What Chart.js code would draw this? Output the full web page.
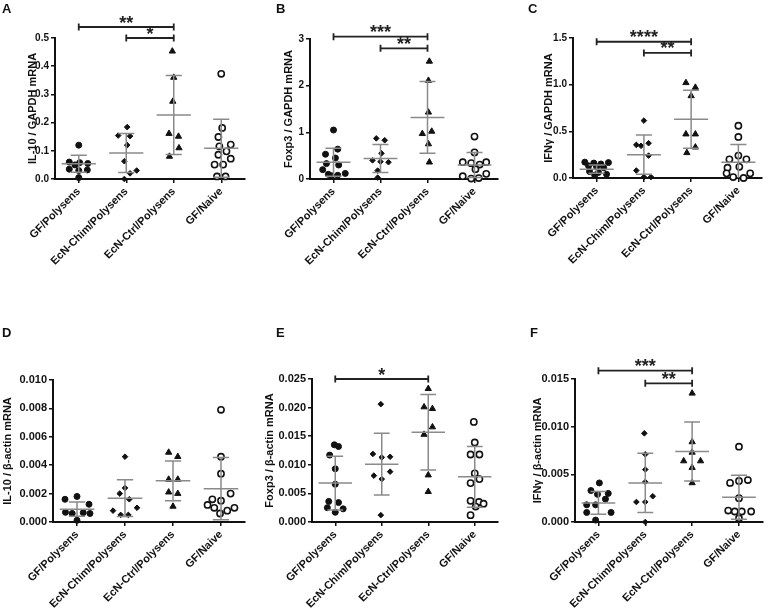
<!DOCTYPE html>
<html>
<head>
<meta charset="utf-8">
<script src="https://cdn.jsdelivr.net/npm/chart.js@4.4.1/dist/chart.umd.min.js"></script>
<style>
  html, body { margin: 0; padding: 0; background: #fff; }
  #fig { position: relative; width: 768px; height: 608px; overflow: hidden; }
  #fig canvas { position: absolute; }
  .tag { position: absolute; font: bold 13px "Liberation Sans", Arial, sans-serif; line-height: 13px; color: #111; }
</style>
</head>
<body>
<div id="fig">
  <canvas id="pA"></canvas><canvas id="pB"></canvas><canvas id="pC"></canvas>
  <canvas id="pD"></canvas><canvas id="pE"></canvas><canvas id="pF"></canvas>
  <div class="tag" style="left:2px;top:2px">A</div>
  <div class="tag" style="left:276px;top:2px">B</div>
  <div class="tag" style="left:528px;top:2px">C</div>
  <div class="tag" style="left:2px;top:326px">D</div>
  <div class="tag" style="left:276px;top:326px">E</div>
  <div class="tag" style="left:530px;top:326px">F</div>
</div>
<script>
const groups = ["GF/Polysens", "EcN-Chim/Polysens", "EcN-Ctrl/Polysens", "GF/Naive"];

// A: IL-10 / GAPDH
const aTicks = [0, 0.1, 0.2, 0.3, 0.4, 0.5];
const aGF = [0.12, 0.06, 0.058, 0.055, 0.05, 0.035, 0.032, 0.03, 0.005];
const aGFdx = [0, -0.2, 0.02, 0.19, -0.08, -0.2, 0.18, 0.0, 0];
const aChim = [0.184, 0.154, 0.152, 0.12, 0.063, 0.03, 0.02, 0.0];
const aChimDx = [0.02, -0.17, 0.08, 0.02, -0.04, 0.22, 0.08, -0.04];
const aCtrl = [0.453, 0.36, 0.275, 0.161, 0.151, 0.11, 0.08];
const aCtrlDx = [-0.03, 0, -0.02, -0.1, 0.1, 0.11, -0.09];
const aNaive = [0.373, 0.181, 0.149, 0.122, 0.116, 0.098, 0.086, 0.072, 0.051, 0.051, 0.009, 0.009];
const aNaiveDx = [0, 0.02, -0.06, 0.2, -0.04, 0.11, -0.06, 0.2, -0.14, 0.04, -0.09, 0.09];
const aMean = [0.054, 0.092, 0.227, 0.109];
const aSD = [0.03, 0.069, 0.14, 0.103];
const aSig = [[0, 2, 0.539, "**"], [1, 2, 0.5, "*"]];

// B: Foxp3 / GAPDH
const bTicks = [0, 1, 2, 3];
const bGF = [1.05, 0.64, 0.53, 0.45, 0.33, 0.3, 0.2, 0.12, 0.1, 0.08, 0.07];
const bGFdx = [0, 0.09, -0.17, 0.04, -0.15, 0.11, -0.23, 0.25, -0.11, 0.09, -0.04];
const bChim = [0.87, 0.83, 0.55, 0.4, 0.37, 0.36, 0.18, 0.03];
const bChimDx = [-0.09, 0.09, 0.02, -0.17, 0, 0.17, -0.06, -0.06];
const bCtrl = [2.52, 2.11, 1.43, 1.02, 0.97, 0.75, 0.36];
const bCtrlDx = [0.04, 0.02, 0.02, 0.09, -0.11, 0.02, 0.04];
const bNaive = [0.91, 0.57, 0.36, 0.36, 0.34, 0.31, 0.21, 0.11, 0.06, 0.02, 0.01];
const bNaiveDx = [0, 0, -0.25, 0.25, -0.07, 0.11, 0.02, 0.25, -0.25, 0.09, -0.07];
const bMean = [0.36, 0.44, 1.32, 0.3];
const bSD = [0.3, 0.3, 0.77, 0.27];
const bSig = [[0, 2, 3.05, "***"], [1, 2, 2.8, "**"]];

// C: IFNγ / GAPDH
const cTicks = [0, 0.5, 1.0, 1.5];
const cGF = [0.17, 0.165, 0.16, 0.15, 0.13, 0.12, 0.11, 0.07, 0.06, 0.04, 0.03];
const cGFdx = [-0.25, 0.25, -0.06, 0.09, -0.17, 0, 0.15, -0.15, 0.04, 0.21, -0.04];
const cChim = [0.615, 0.373, 0.355, 0.345, 0.24, 0.08, 0.01, 0.01];
const cChimDx = [0, 0.1, -0.16, -0.06, 0.1, -0.16, 0, 0.15];
const cCtrl = [1.02, 0.97, 0.88, 0.47, 0.47, 0.33, 0.27];
const cCtrlDx = [-0.11, 0.09, 0, -0.11, 0.09, 0.09, -0.09];
const cNaive = [0.56, 0.44, 0.24, 0.2, 0.2, 0.12, 0.11, 0.05, 0.05, 0.01, 0.0];
const cNaiveDx = [0, 0, 0, 0.17, -0.19, 0.02, -0.23, 0.25, -0.25, -0.11, 0.11];
const cMean = [0.095, 0.25, 0.63, 0.17];
const cSD = [0.045, 0.21, 0.31, 0.19];
const cSig = [[0, 2, 1.46, "****"], [1, 2, 1.34, "**"]];

// D: IL-10 / β-actin
const dTicks = [0, 0.002, 0.004, 0.006, 0.008, 0.010];
const dGF = [0.0018, 0.0016, 0.00125, 0.00068, 0.0006, 0.00066, 0.0006, 0.00012];
const dGFdx = [0, -0.25, 0.25, -0.24, -0.1, 0.13, 0.27, 0];
const dChim = [0.0046, 0.0024, 0.002, 0.0016, 0.001, 0.0008, 0.0005, 0.0005];
const dChimDx = [0, 0, -0.11, 0.09, 0.25, -0.25, -0.09, 0.07];
const dCtrl = [0.0049, 0.0046, 0.003, 0.003, 0.0021, 0.002, 0.0011];
const dCtrlDx = [-0.09, 0.1, -0.09, 0.1, -0.09, 0.1, 0];
const dNaive = [0.0079, 0.0046, 0.0034, 0.002, 0.0016, 0.0015, 0.0012, 0.001, 0.001, 0.0008, 0.0006];
const dNaiveDx = [0, 0, 0, 0.2, -0.18, 0, -0.28, -0.14, 0.28, 0.13, -0.02];
const dMean = [0.0009, 0.00168, 0.0029, 0.00235];
const dSD = [0.0005, 0.0013, 0.0014, 0.0022];
const dSig = [];

// E: Foxp3 / β-actin
const eTicks = [0, 0.005, 0.010, 0.015, 0.020, 0.025];
const eGF = [0.0135, 0.0132, 0.0117, 0.0093, 0.0066, 0.0036, 0.0034, 0.0025, 0.0023, 0.0017];
const eGFdx = [-0.02, 0.07, -0.12, 0, 0, -0.14, 0.07, -0.17, 0.17, 0];
const eChim = [0.0206, 0.0119, 0.0114, 0.0113, 0.0088, 0.0081, 0.0075, 0.0012];
const eChimDx = [-0.02, -0.19, 0.18, 0, 0.18, -0.17, 0, -0.02];
const eCtrl = [0.0233, 0.0201, 0.0198, 0.0166, 0.0153, 0.0082, 0.0053];
const eCtrlDx = [0, -0.09, 0.09, 0.09, -0.09, 0, 0];
const eNaive = [0.0175, 0.0139, 0.0118, 0.0118, 0.0085, 0.0075, 0.0068, 0.0037, 0.0035, 0.0032, 0.0027, 0.0012];
const eNaiveDx = [-0.02, 0, -0.09, 0.1, 0, 0.1, -0.09, -0.09, 0.09, 0.19, 0.02, -0.09];
const eMean = [0.0068, 0.0101, 0.0157, 0.0079];
const eSD = [0.0047, 0.0054, 0.0066, 0.0053];
const eSig = [[0, 2, 0.025, "*"]];

// F: IFNγ / β-actin
const fTicks = [0, 0.005, 0.010, 0.015];
const fGF = [0.0041, 0.0033, 0.003, 0.0029, 0.0024, 0.0018, 0.0018, 0.001, 0.001, 0.0002];
const fGFdx = [0.02, -0.16, 0.21, -0.02, 0.15, -0.25, -0.06, 0.27, -0.25, -0.06];
const fChim = [0.0093, 0.0071, 0.0055, 0.0042, 0.0027, 0.0021, 0.0021, 0.0];
const fChimDx = [-0.02, 0, 0, 0, 0.16, -0.19, 0, 0];
const fCtrl = [0.0135, 0.0084, 0.0073, 0.0064, 0.0064, 0.0057, 0.0041];
const fCtrlDx = [0, 0, 0, -0.18, 0.18, 0, 0];
const fNaive = [0.0079, 0.0044, 0.0043, 0.0041, 0.0025, 0.0012, 0.0011, 0.0011, 0.0011, 0.0004];
const fNaiveDx = [0, 0.19, 0, -0.19, 0, -0.23, -0.09, 0.06, 0.26, 0];
const fMean = [0.002, 0.0041, 0.0074, 0.0026];
const fSD = [0.0012, 0.0031, 0.0031, 0.0023];
const fSig = [[0, 2, 0.01587, "***"], [1, 2, 0.01455, "**"]];

const FONT = '"Liberation Sans", Arial, sans-serif';
const INK = "#111";

// marker style per group: filled circle, diamond, triangle, open circle
const marks = [
  { pointStyle: "circle", radius: 3, bg: INK, bw: 1 },
  { pointStyle: "rectRot", radius: 2.8, bg: INK, bw: 1 },
  { pointStyle: "triangle", radius: 3.6, bg: INK, bw: 1 },
  { pointStyle: "circle", radius: 3.1, bg: "#fff", bw: 1.6 },
];

// draws mean ± SD bars and significance brackets
function overlay(mean, sd, sig) {
  return {
    id: "overlay",
    afterDatasetsDraw(chart) {
      const { ctx, scales: { x, y } } = chart;
      ctx.save();
      ctx.strokeStyle = "#8a8a8a";
      ctx.lineWidth = 1.5;
      mean.forEach((m, i) => {
        const xc = x.getPixelForValue(i);
        const half = x.getPixelForValue(i + 0.36) - xc;
        const cap = x.getPixelForValue(i + 0.17) - xc;
        const lo = m - sd[i];
        const ym = y.getPixelForValue(m);
        const yu = y.getPixelForValue(m + sd[i]);
        const yl = y.getPixelForValue(Math.max(lo, y.min));
        ctx.beginPath();
        ctx.moveTo(xc - half, ym); ctx.lineTo(xc + half, ym);
        ctx.moveTo(xc, yu); ctx.lineTo(xc, yl);
        ctx.moveTo(xc - cap, yu); ctx.lineTo(xc + cap, yu);
        if (lo > y.min) { ctx.moveTo(xc - cap, yl); ctx.lineTo(xc + cap, yl); }
        ctx.stroke();
      });

      ctx.strokeStyle = "#222";
      ctx.fillStyle = "#222";
      ctx.lineWidth = 1.8;
      ctx.font = "bold 18px " + FONT;
      ctx.textAlign = "center";
      ctx.textBaseline = "alphabetic";
      sig.forEach(([a, b, v, stars]) => {
        const x1 = x.getPixelForValue(a), x2 = x.getPixelForValue(b), yy = y.getPixelForValue(v);
        ctx.beginPath();
        ctx.moveTo(x1, yy); ctx.lineTo(x2, yy);
        ctx.moveTo(x1, yy - 3.5); ctx.lineTo(x1, yy + 3.5);
        ctx.moveTo(x2, yy - 3.5); ctx.lineTo(x2, yy + 3.5);
        ctx.stroke();
        const tm = ctx.measureText(stars);
        const base = yy - 8 + (tm.actualBoundingBoxAscent - tm.actualBoundingBoxDescent) / 2;
        ctx.fillText(stars, (x1 + x2) / 2, base);
      });
      ctx.restore();
    },
  };
}

function panel(id, box, title, ticks, dec, tickSize, sets, mean, sd, sig) {
  const cv = document.getElementById(id);
  cv.width = box.cw; cv.height = box.ch;
  cv.style.left = box.cx + "px"; cv.style.top = box.cy + "px";
  cv.style.width = box.cw + "px"; cv.style.height = box.ch + "px";

  const padLeft = box.titleX - 6.6 - box.cx;
  const yWidth = box.left - box.cx - padLeft;
  const xHeight = box.cy + box.ch - box.bottom;

  const datasets = sets.map(([vals, dx], i) => ({
    data: vals.map((v, k) => ({ x: i + dx[k], y: v })),
    pointStyle: marks[i].pointStyle,
    pointRadius: marks[i].radius,
    pointBackgroundColor: marks[i].bg,
    pointBorderColor: INK,
    pointBorderWidth: marks[i].bw,
    showLine: false,
    clip: false,
  }));

  const axisLine = { display: true, color: INK, width: 2 };
  const tickGrid = { display: true, drawOnChartArea: false, drawTicks: true, tickLength: 4, color: INK, lineWidth: 1.5 };

  new Chart(cv, {
    type: "scatter",
    data: { datasets },
    options: {
      responsive: false,
      animation: false,
      devicePixelRatio: 1,
      layout: { padding: { left: padLeft, top: box.top - box.cy, right: box.cx + box.cw - box.right, bottom: 0 } },
      plugins: { legend: { display: false }, tooltip: { enabled: false } },
      scales: {
        x: {
          type: "linear",
          min: -0.5,
          max: 3.5,
          afterBuildTicks: (s) => { s.ticks = groups.map((g, i) => ({ value: i })); },
          afterFit: (s) => { s.height = xHeight; },
          border: axisLine,
          grid: tickGrid,
          ticks: {
            autoSkip: false, maxRotation: 45, minRotation: 45, padding: 2, color: INK,
            font: { family: FONT, size: 11, weight: "bold" },
            callback: (v) => groups[v],
          },
        },
        y: {
          type: "linear",
          min: ticks[0],
          max: ticks[ticks.length - 1],
          afterBuildTicks: (s) => { s.ticks = ticks.map((v) => ({ value: v })); },
          afterFit: (s) => { s.width = yWidth; },
          border: axisLine,
          grid: tickGrid,
          ticks: {
            padding: 2, color: INK,
            font: { family: FONT, size: tickSize, weight: "bold" },
            callback: (v) => v.toFixed(dec),
          },
          title: {
            display: true, text: title, color: INK, padding: 0,
            font: { family: FONT, size: 11, weight: "bold", lineHeight: 1.2 },
          },
        },
      },
    },
    plugins: [overlay(mean, sd, sig)],
  });
}

panel("pA", { cx: 0, cy: 0, cw: 256, ch: 304, left: 55, right: 245, top: 38, bottom: 179, titleX: 33 },
  "IL-10 / GAPDH mRNA", aTicks, 1, 10,
  [[aGF, aGFdx], [aChim, aChimDx], [aCtrl, aCtrlDx], [aNaive, aNaiveDx]], aMean, aSD, aSig);

panel("pB", { cx: 256, cy: 0, cw: 256, ch: 304, left: 310, right: 498, top: 39, bottom: 179, titleX: 289 },
  "Foxp3 / GAPDH mRNA", bTicks, 0, 10,
  [[bGF, bGFdx], [bChim, bChimDx], [bCtrl, bCtrlDx], [bNaive, bNaiveDx]], bMean, bSD, bSig);

panel("pC", { cx: 512, cy: 0, cw: 256, ch: 304, left: 573, right: 762, top: 38, bottom: 178, titleX: 549 },
  "IFNγ / GAPDH mRNA", cTicks, 1, 10,
  [[cGF, cGFdx], [cChim, cChimDx], [cCtrl, cCtrlDx], [cNaive, cNaiveDx]], cMean, cSD, cSig);

panel("pD", { cx: 0, cy: 304, cw: 256, ch: 304, left: 53, right: 245, top: 380, bottom: 522, titleX: 8 },
  "IL-10 / β-actin mRNA", dTicks, 3, 11,
  [[dGF, dGFdx], [dChim, dChimDx], [dCtrl, dCtrlDx], [dNaive, dNaiveDx]], dMean, dSD, dSig);

panel("pE", { cx: 256, cy: 304, cw: 256, ch: 304, left: 312, right: 498, top: 379, bottom: 522, titleX: 270 },
  "Foxp3 / β-actin mRNA", eTicks, 3, 11,
  [[eGF, eGFdx], [eChim, eChimDx], [eCtrl, eCtrlDx], [eNaive, eNaiveDx]], eMean, eSD, eSig);

panel("pF", { cx: 512, cy: 304, cw: 256, ch: 304, left: 575, right: 763, top: 379, bottom: 522, titleX: 538 },
  "IFNγ / β-actin mRNA", fTicks, 3, 11,
  [[fGF, fGFdx], [fChim, fChimDx], [fCtrl, fCtrlDx], [fNaive, fNaiveDx]], fMean, fSD, fSig);
</script>
</body>
</html>
